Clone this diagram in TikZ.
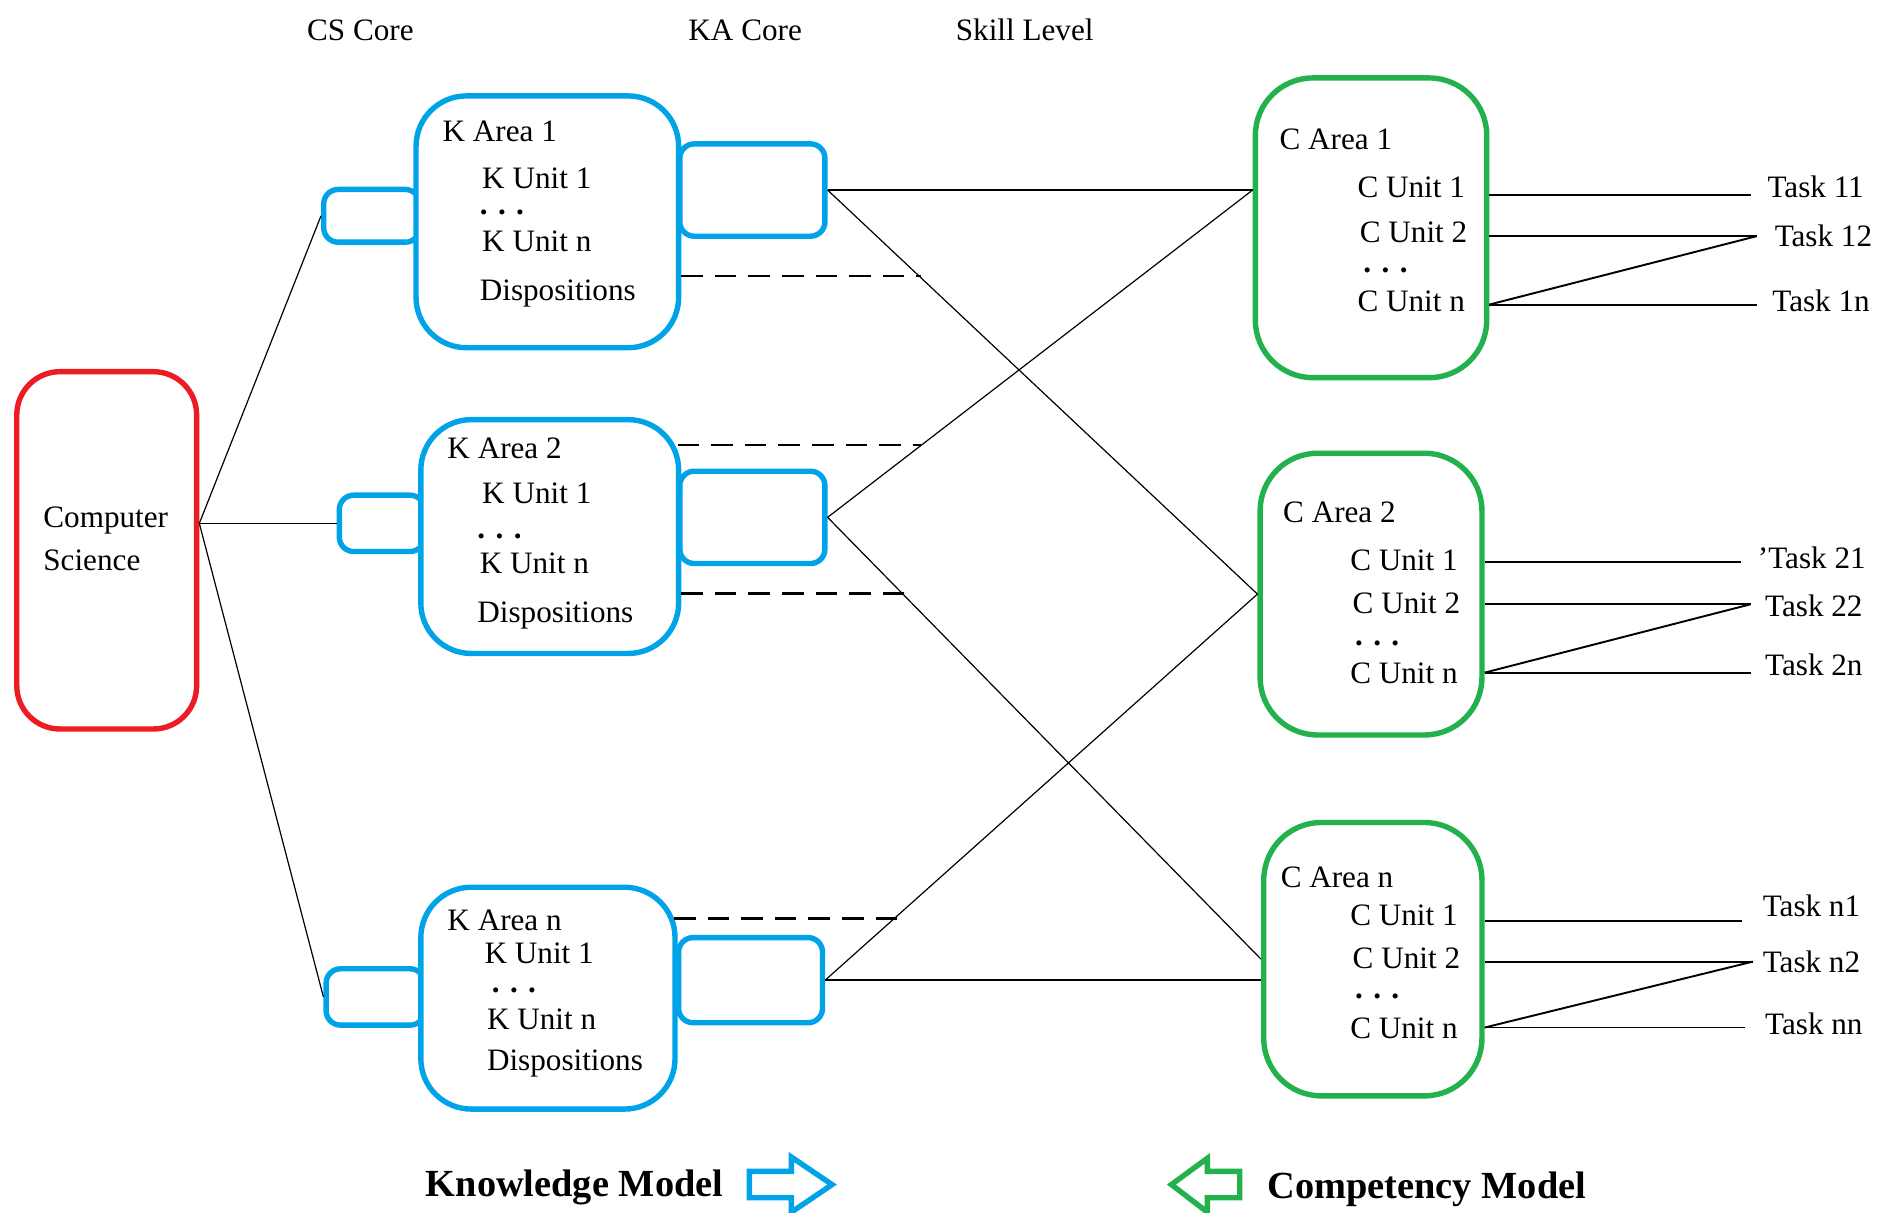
\documentclass[tikz,border=0pt]{standalone}
\usepackage{fontspec}
\setmainfont{Liberation Serif}
\definecolor{kblue}{HTML}{00A2E8}
\definecolor{cred}{HTML}{ED1C24}
\definecolor{cgreen}{HTML}{22B14C}
\tikzset{
  kbox/.style={draw=kblue, line width=4.5pt, fill=white, rounded corners=42pt, inner sep=0pt},
  kport/.style={draw=kblue, line width=4.5pt, fill=white, rounded corners=12pt, inner sep=0pt},
  cbox/.style={draw=cgreen, line width=4.5pt, rounded corners=48pt, inner sep=0pt},
  csbox/.style={draw=cred, line width=4.5pt, rounded corners=36pt, inner sep=0pt},
  txt/.style={inner sep=0pt, anchor=base west, font=\fontsize{26}{30}\selectfont},
  dotrow/.style={inner sep=0pt, anchor=base west, font=\fontsize{26}{30}\selectfont\bfseries},
  bigtxt/.style={inner sep=0pt, anchor=base west, font=\fontsize{32}{38}\selectfont\bfseries},
  link/.style={line width=1pt},
  tline/.style={line width=1.6pt},
  dline/.style={line width=2pt, dash pattern=on 18pt off 10pt},
  bigarrow/.style={line width=4.5pt, line join=miter},
}
\begin{document}
\begin{tikzpicture}[x=1pt,y=-1pt]
\useasboundingbox (0,0) rectangle (1568,1011);

% headers
\node[txt] (hcs) at (256,34) {CS Core};
\node[txt] (hka) at (574,34) {KA Core};
\node[txt] (hsk) at (797,34) {Skill Level};

% Computer Science
\node[csbox, minimum width=150pt, minimum height=298pt] (cs) at (89,459) {};
\node[txt] (cst1) at (36,440) {Computer};
\node[txt] (cst2) at (36,476) {Science};

% K Area 1
\node[kport, minimum width=80pt, minimum height=44pt] (kl1) at (310,180) {};
\node[kbox, minimum width=219pt, minimum height=210pt] (ka1) at (456.5,185) {};
\node[kport, minimum width=121pt, minimum height=77pt] (kr1) at (627.5,158.5) {};
\node[txt] (ka1t) at (369,118) {K Area 1};
\node[txt] (ka1a) at (402,157) {K Unit 1};
\node[dotrow] (ka1b) at (400,179) {. . .};
\node[txt] (ka1c) at (402,210) {K Unit n};
\node[txt] (ka1d) at (400,251) {Dispositions};

% K Area 2
\node[kport, minimum width=71pt, minimum height=47pt] (kl2) at (318.5,436.5) {};
\node[kbox, minimum width=215pt, minimum height=195pt] (ka2) at (458.5,447.5) {};
\node[kport, minimum width=121pt, minimum height=77pt] (kr2) at (627.5,431.5) {};
\node[txt] (ka2t) at (373,382) {K Area 2};
\node[txt] (ka2a) at (402,420) {K Unit 1};
\node[dotrow] (ka2b) at (398,449) {. . .};
\node[txt] (ka2c) at (400,478) {K Unit n};
\node[txt] (ka2d) at (398,519) {Dispositions};

% K Area n
\node[kport, minimum width=82pt, minimum height=47pt] (kln) at (313,831.5) {};
\node[kbox, minimum width=212pt, minimum height=185pt] (kan) at (457,832.5) {};
\node[kport, minimum width=120pt, minimum height=71pt] (krn) at (626,817.5) {};
\node[txt] (kant) at (373,776) {K Area n};
\node[txt] (kana) at (404,804) {K Unit 1};
\node[dotrow] (kanb) at (410,828) {. . .};
\node[txt] (kanc) at (406,859) {K Unit n};
\node[txt] (kand) at (406,893) {Dispositions};

% C Area 1
\node[cbox, minimum width=193pt, minimum height=250pt] (ca1) at (1143.5,190) {};
\node[txt] (ca1t) at (1067,125) {C Area 1};
\node[txt] (ca1a) at (1132,165) {C Unit 1};
\node[txt] (ca1b) at (1134,202) {C Unit 2};
\node[dotrow] (ca1c) at (1137,227) {. . .};
\node[txt] (ca1d) at (1132,260) {C Unit n};

% C Area 2
\node[cbox, minimum width=185pt, minimum height=235pt] (ca2) at (1143.5,495.5) {};
\node[txt] (ca2t) at (1070,436) {C Area 2};
\node[txt] (ca2a) at (1126,476) {C Unit 1};
\node[txt] (ca2b) at (1128,512) {C Unit 2};
\node[dotrow] (ca2c) at (1130,538) {. . .};
\node[txt] (ca2d) at (1126,570) {C Unit n};

% C Area n
\node[cbox, minimum width=182pt, minimum height=228pt] (can) at (1145,800) {};
\node[txt] (cant) at (1068,740) {C Area n};
\node[txt] (cana) at (1126,772) {C Unit 1};
\node[txt] (canb) at (1128,808) {C Unit 2};
\node[dotrow] (canc) at (1130,833) {. . .};
\node[txt] (cand) at (1126,866) {C Unit n};

% tasks
\node[txt] (t11) at (1474,165) {Task 11};
\node[txt] (t12) at (1480,206) {Task 12};
\node[txt] (t1n) at (1478,260) {Task 1n};
\node[txt] (t21) at (1466,474) {'Task 21};
\node[txt] (t22) at (1472,514) {Task 22};
\node[txt] (t2n) at (1472,563) {Task 2n};
\node[txt] (tn1) at (1470,764) {Task n1};
\node[txt] (tn2) at (1470,811) {Task n2};
\node[txt] (tnn) at (1472,863) {Task nn};

% task line ends
\coordinate (e11) at (1460,163);
\coordinate (e12) at (1465,197);
\coordinate (e1n) at (1465,254);
\coordinate (e21) at (1452,469);
\coordinate (e22) at (1460,504);
\coordinate (e2n) at (1460,561);
\coordinate (en1) at (1453,768);
\coordinate (en2) at (1462,802);
\coordinate (enn) at (1455,857);

\draw[tline] (ca1.east |- e11) -- (e11);
\draw[tline] (ca1.east |- e12) -- (e12);
\draw[tline] (ca1.east |- e1n) -- (e1n);
\draw[tline] (ca1.east |- e1n) -- (e12);
\draw[tline] (ca2.east |- e21) -- (e21);
\draw[tline] (ca2.east |- e22) -- (e22);
\draw[tline] (ca2.east |- e2n) -- (e2n);
\draw[tline] (ca2.east |- e2n) -- (e22);
\draw[tline] (can.east |- en1) -- (en1);
\draw[tline] (can.east |- en2) -- (en2);
\draw[tline] (can.east |- enn) -- (enn);
\draw[tline] (can.east |- enn) -- (en2);

% hub links
\coordinate (hub) at (cs.east |- kl2.west);
\draw[link] (hub) -- (kl1.west);
\draw[link] (hub) -- (kl2.west);
\draw[link] (hub) -- (kln.west);

% KA core to C areas
\coordinate (c1in) at (ca1.west |- kr1.east);
\coordinate (cnin) at (can.west |- krn.east);
\draw[link] (kr1.east) -- (c1in);
\draw[link] (kr1.east) -- (ca2.west);
\draw[link] (kr2.east) -- (c1in);
\draw[link] (kr2.east) -- (can.west);
\draw[link] (krn.east) -- (ca2.west);
\draw[tline] (krn.east) -- (cnin);

% dashed skill level lines
\coordinate (s1) at (768,230);
\coordinate (s2a) at (768,371);
\coordinate (s2b) at (755,495);
\coordinate (sn) at (752,766);
\draw[dline] (ka1.east |- s1) -- (s1);
\draw[dline] ([xshift=-3pt]ka2.east |- s2a) -- (s2a);
\draw[dline] (ka2.east |- s2b) -- (s2b);
\draw[dline] ([xshift=-3pt]kan.east |- sn) -- (sn);

% legend
\node[bigtxt] (km) at (355,998) {Knowledge Model};
\node[bigtxt] (cm) at (1057,1000) {Competency Model};
\draw[bigarrow, draw=kblue] (625,977) -- (660,977) -- (660,965) -- (694,988) -- (660,1011) -- (660,999) -- (625,999) -- cycle;
\draw[bigarrow, draw=cgreen] (1034,977) -- (1007,977) -- (1007,966) -- (977,988) -- (1007,1011) -- (1007,999) -- (1034,999) -- cycle;
\end{tikzpicture}
\end{document}
